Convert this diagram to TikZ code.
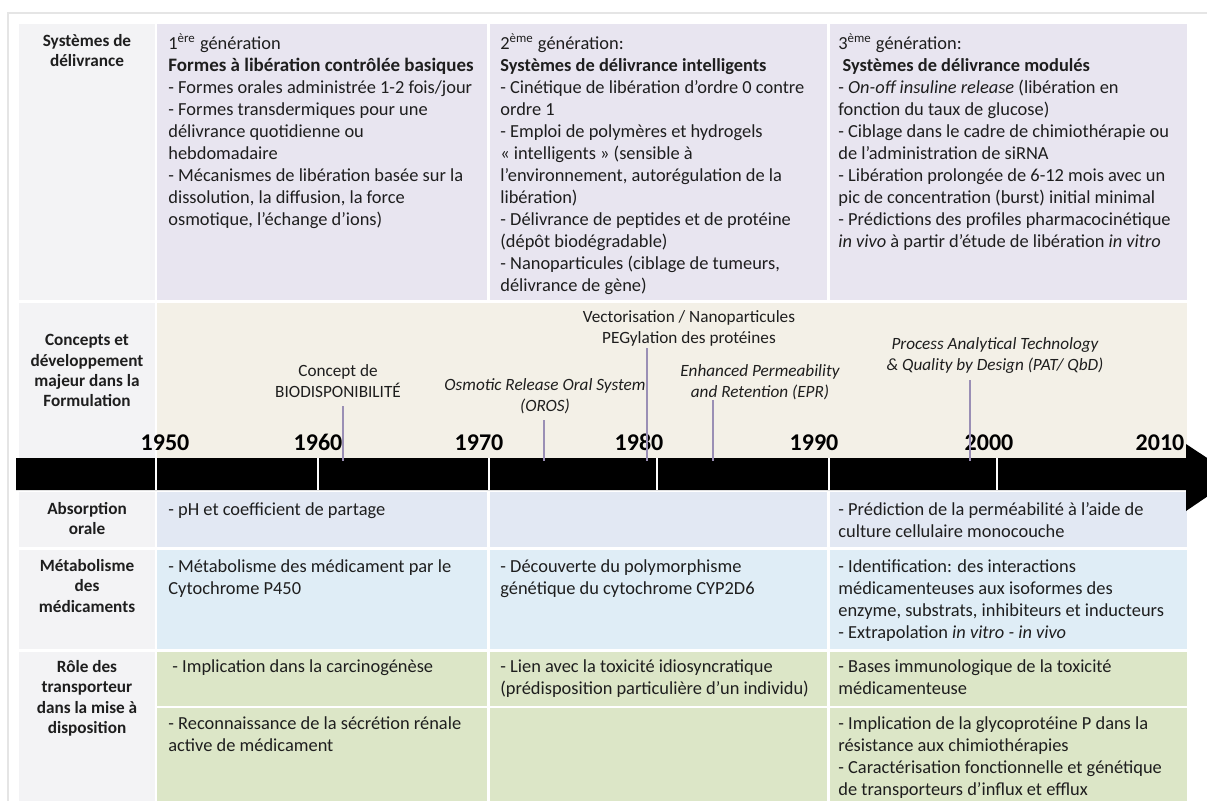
\documentclass[tikz,border=0pt]{standalone}
\usepackage{fontspec}
\setmainfont{Carlito}
\usetikzlibrary{positioning}
\definecolor{ink}{HTML}{1E1E1E}
\definecolor{labgrey}{HTML}{F3F3F5}
\definecolor{genpurple}{HTML}{E8E5F0}
\definecolor{conceptbeige}{HTML}{F3F0E7}
\definecolor{absblue}{HTML}{E2E8F3}
\definecolor{metablue}{HTML}{DFEDF6}
\definecolor{transgreen}{HTML}{DCE6C7}
\definecolor{markerpurple}{HTML}{9A8FB5}
\newcommand{\cellfont}{\fontsize{9.2}{11}\selectfont}
\newcommand{\headfont}{\fontsize{8.6}{10.2}\selectfont\bfseries}
\tikzset{
  rowhead/.style={anchor=north, align=center, inner sep=0pt, font=\headfont, text=ink},
  celltext/.style={anchor=north west, align=left, inner sep=0pt, font=\cellfont, text=ink},
  event/.style={anchor=north, align=center, inner sep=0pt, font=\fontsize{8.6}{10.5}\selectfont, text=ink},
  year/.style={anchor=base, inner sep=0pt, font=\fontsize{12}{14}\selectfont\bfseries, text=black},
  marker/.style={draw=markerpurple, line width=0.6pt},
  tick/.style={draw=white, line width=1pt},
  frame/.style={draw=black!10, line width=0.6pt},
}
% three period columns of one row band
\newcommand{\band}[3]{%
  \fill[#3] (157,#1) rectangle (487,#2);%
  \fill[#3] (490,#1) rectangle (827,#2);%
  \fill[#3] (830,#1) rectangle (1187,#2);%
}

\begin{document}
\begin{tikzpicture}[x=0.5pt, y=-0.5pt]
  \useasboundingbox (0,0) rectangle (1207,800);
  \clip (0,0) rectangle (1207,800);

  % --- backgrounds -----------------------------------------------------------
  \draw[frame] (8,820) -- (8,13) -- (1230,13);
  \foreach \top/\bot in {24/300, 303/458, 492/547, 550/649, 652/820} {
    \fill[labgrey] (19,\top) rectangle (155,\bot);
  }
  \band{24}{300}{genpurple}
  \fill[conceptbeige] (157,303) rectangle (1187,458);
  \band{492}{547}{absblue}
  \band{550}{649}{metablue}
  \band{652}{706}{transgreen}
  \band{708}{820}{transgreen}

  % --- time axis -------------------------------------------------------------
  \fill[black] (16,458) -- (1186,458) -- (1186,444) -- (1236,477)
    -- (1186,511) -- (1186,490) -- (16,490) -- cycle;
  \foreach \x in {156,318,488.5,657,828.5,997} {
    \draw[tick] (\x,458) -- (\x,490);
  }
  \foreach \yr/\x in {1950/165, 1960/318, 1970/479, 1980/639, 1990/814, 2000/989, 2010/1160} {
    \node[year] (y\yr) at (\x,450) {\yr};
  }

  % --- row heads -------------------------------------------------------------
  \node[rowhead] (hdeliv) at (87,34) {Systèmes de\\délivrance};
  \node[rowhead] (hconcept) at (87,334) {Concepts et\\développement\\majeur dans la\\Formulation};
  \node[rowhead] (habs) at (87,502) {Absorption\\orale};
  \node[rowhead] (hmeta) at (87,559) {Métabolisme\\des\\médicaments};
  \node[rowhead] (htrans) at (87,660) {Rôle des\\transporteur\\dans la mise à\\disposition};

  % --- delivery systems --------------------------------------------------------
  \node[celltext] (gen1) at (168,33) {1\textsuperscript{ère} génération\\
    {\fontsize{9.5}{11}\selectfont\bfseries Formes à libération contrôlée basiques}\\
    - Formes orales administrée 1-2 fois/jour\\
    - Formes transdermiques pour une\\
    délivrance quotidienne ou\\
    hebdomadaire\\
    - Mécanismes de libération basée sur la\\
    dissolution, la diffusion, la force\\
    osmotique, l’échange d’ions)};
  \node[celltext] (gen2) at (500,33) {2\textsuperscript{ème} génération:\\
    \textbf{Systèmes de délivrance intelligents}\\
    - Cinétique de libération d’ordre 0 contre\\
    ordre 1\\
    - Emploi de polymères et hydrogels\\
    « intelligents » (sensible à\\
    l’environnement, autorégulation de la\\
    libération)\\
    - Délivrance de peptides et de protéine\\
    (dépôt biodégradable)\\
    - Nanoparticules (ciblage de tumeurs,\\
    délivrance de gène)};
  \node[celltext] (gen3) at (838,33) {3\textsuperscript{ème} génération:\\
    \ \textbf{Systèmes de délivrance modulés}\\
    - \textit{On-off insuline release} (libération en\\
    fonction du taux de glucose)\\
    - Ciblage dans le cadre de chimiothérapie ou\\
    de l’administration de siRNA\\
    - Libération prolongée de 6-12 mois avec un\\
    pic de concentration (burst) initial minimal\\
    - Prédictions des profiles pharmacocinétique\\
    \textit{in vivo} à partir d’étude de libération \textit{in vitro}};

  % --- concepts on the time axis ----------------------------------------------
  \node[event] (bio) at (338,364) {Concept de\\BIODISPONIBILITÉ};
  \node[event, font=\fontsize{8.6}{10.5}\selectfont\itshape] (oros) at (545,378) {Osmotic Release Oral System\\(OROS)};
  \node[event] (vect) at (689,310) {Vectorisation / Nanoparticules\\PEGylation des protéines};
  \node[event, font=\fontsize{8.6}{10.5}\selectfont\itshape] (epr) at (760,364) {Enhanced Permeability\\and Retention (EPR)};
  \node[event, font=\fontsize{8.6}{10.5}\selectfont\itshape] (pat) at (995,337) {Process Analytical Technology\\\& Quality by Design (PAT/ QbD)};
  \foreach \ev/\x/\top in {bio/343/406, oros/544/420, vect/647/348, epr/713/400, pat/970/380} {
    \coordinate (\ev-a) at (\x,\top);
    \coordinate (\ev-b) at (\x,461);
    \draw[marker] (\ev-a) -- (\ev-b);
  }

  % --- oral absorption ---------------------------------------------------------
  \node[celltext] (abs1) at (168,502) {- pH et coefficient de partage};
  \node[celltext] (abs3) at (838,502) {- Prédiction de la perméabilité à l’aide de\\
    culture cellulaire monocouche};

  % --- drug metabolism ---------------------------------------------------------
  \node[celltext] (meta1) at (168,559) {- Métabolisme des médicament par le\\
    Cytochrome P450};
  \node[celltext] (meta2) at (500,559) {- Découverte du polymorphisme\\
    génétique du cytochrome CYP2D6};
  \node[celltext] (meta3) at (838,559) {- Identification: des interactions\\
    médicamenteuses aux isoformes des\\
    enzyme, substrats, inhibiteurs et inducteurs\\
    - Extrapolation \textit{in vitro - in vivo}};

  % --- transporters ------------------------------------------------------------
  \node[celltext] (trans1) at (172,659) {- Implication dans la carcinogénèse};
  \node[celltext] (trans2) at (500,659) {- Lien avec la toxicité idiosyncratique\\
    (prédisposition particulière d’un individu)};
  \node[celltext] (trans3) at (838,659) {- Bases immunologique de la toxicité\\
    médicamenteuse};
  \node[celltext] (trans4) at (168,716) {- Reconnaissance de la sécrétion rénale\\
    active de médicament};
  \node[celltext] (trans6) at (838,716) {- Implication de la glycoprotéine P dans la\\
    résistance aux chimiothérapies\\
    - Caractérisation fonctionnelle et génétique\\
    de transporteurs d’influx et efflux};

\end{tikzpicture}
\end{document}
